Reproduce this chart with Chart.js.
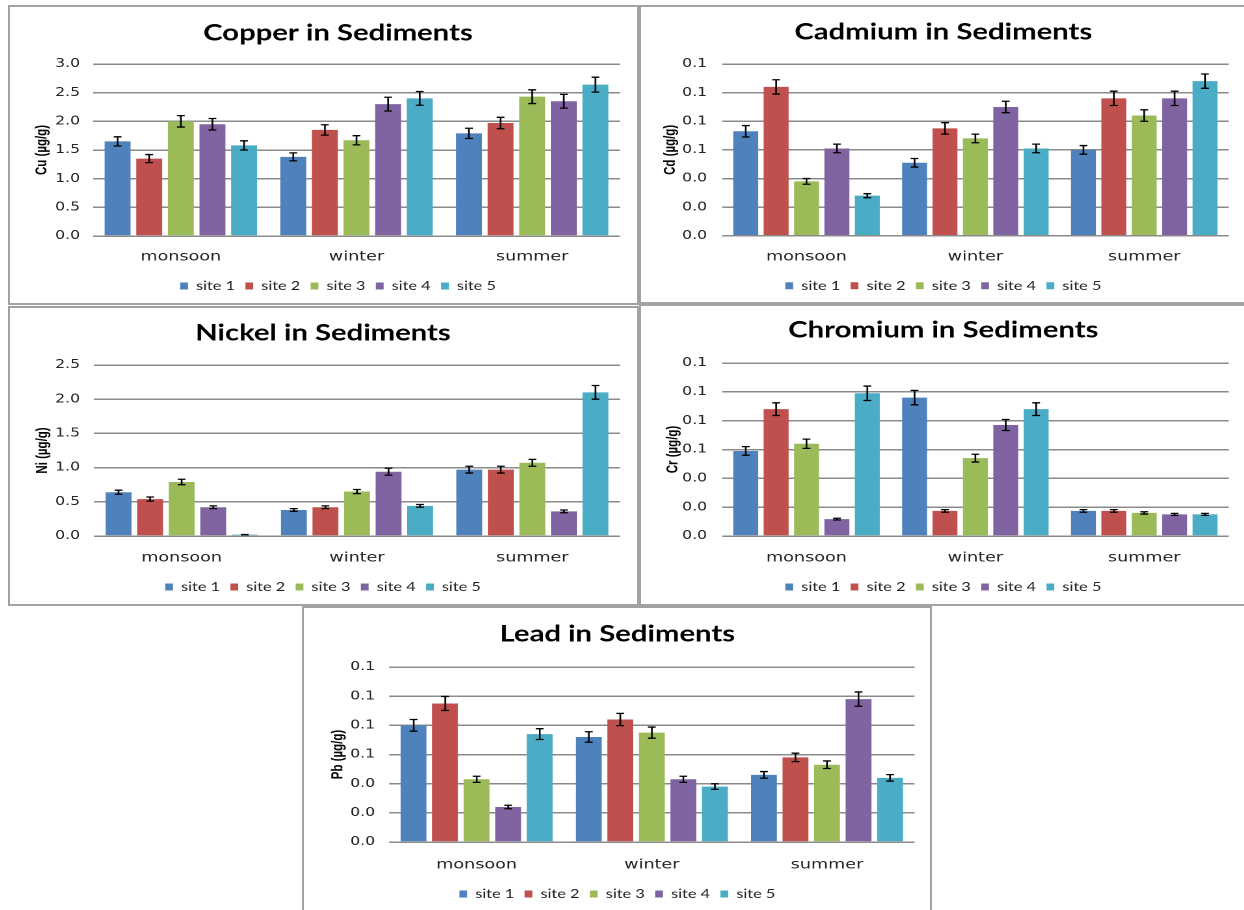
<!DOCTYPE html>
<html lang="en">
<head>
<meta charset="UTF-8">
<title>Heavy metals in sediments</title>
<script src="https://cdn.jsdelivr.net/npm/chart.js"></script>
<style>
  html, body { margin: 0; padding: 0; background: #fff; }
  body { width: 1244px; height: 910px; position: relative; overflow: hidden; }
  .panel { position: absolute; box-sizing: border-box; border: 2px solid #a2a2a2; background: #fff; }
  .stretch { position: absolute; left: 0; top: 0; transform-origin: 0 0; }
</style>
</head>
<body>

<div class="panel" id="p-cu"><div class="stretch"><canvas id="c-cu"></canvas></div></div>
<div class="panel" id="p-cd"><div class="stretch"><canvas id="c-cd"></canvas></div></div>
<div class="panel" id="p-ni"><div class="stretch"><canvas id="c-ni"></canvas></div></div>
<div class="panel" id="p-cr"><div class="stretch"><canvas id="c-cr"></canvas></div></div>
<div class="panel" id="p-pb"><div class="stretch"><canvas id="c-pb"></canvas></div></div>

<script>
    const seasons = ['monsoon', 'winter', 'summer'];
    const sites = ['site 1', 'site 2', 'site 3', 'site 4', 'site 5'];
    const siteColors = ['#4F81BD', '#C0504D', '#9BBB59', '#8064A2', '#4BACC6'];

    // mean concentrations, one row per site (monsoon, winter, summer)
    const cuMean = [[1.65, 1.38, 1.79], [1.35, 1.85, 1.97], [2.00, 1.67, 2.43], [1.95, 2.30, 2.35], [1.58, 2.40, 2.64]];
    const cuErr  = [[0.08, 0.07, 0.09], [0.07, 0.09, 0.10], [0.10, 0.08, 0.12], [0.10, 0.12, 0.12], [0.08, 0.12, 0.13]];

    const cdMean = [[0.073, 0.051, 0.060], [0.104, 0.075, 0.096], [0.038, 0.068, 0.084], [0.061, 0.090, 0.096], [0.028, 0.061, 0.108]];
    const cdErr  = [[0.004, 0.003, 0.003], [0.005, 0.004, 0.005], [0.002, 0.003, 0.004], [0.003, 0.004, 0.005], [0.0014, 0.003, 0.005]];

    const niMean = [[0.64, 0.38, 0.97], [0.54, 0.42, 0.97], [0.79, 0.65, 1.07], [0.42, 0.94, 0.36], [0.02, 0.44, 2.10]];
    const niErr  = [[0.03, 0.02, 0.05], [0.03, 0.02, 0.05], [0.04, 0.03, 0.05], [0.02, 0.05, 0.02], [0.001, 0.02, 0.10]];

    const crMean = [[0.059, 0.096, 0.0174], [0.088, 0.0174, 0.0174], [0.064, 0.054, 0.016], [0.0117, 0.077, 0.015], [0.099, 0.088, 0.015]];
    const crErr  = [[0.003, 0.005, 0.0009], [0.0044, 0.0009, 0.0009], [0.0032, 0.0027, 0.0008], [0.0006, 0.0038, 0.0007], [0.005, 0.0044, 0.0007]];

    const pbMean = [[0.080, 0.072, 0.046], [0.095, 0.084, 0.058], [0.043, 0.075, 0.053], [0.024, 0.043, 0.098], [0.074, 0.038, 0.044]];
    const pbErr  = [[0.004, 0.0036, 0.0023], [0.0048, 0.0042, 0.0029], [0.0021, 0.0038, 0.0026], [0.0012, 0.0021, 0.0049], [0.0037, 0.0019, 0.0022]];

    // y axis: min, max, step
    const cuAxis = [0, 3, 0.5];
    const niAxis = [0, 2.5, 0.5];
    const traceAxis = [0, 0.12, 0.02];

    const S = 1.3;        // horizontal stretch of every panel
    const BORDER = 2;
    const TITLE_SIZE = 22.5;
    const LEG_SIZE = 12.5;
    const LEG_PAD = 8;
    const YT_SIZE = 11.5;

    // draws the +/- bars on top of each column
    const errorBars = {
        id: 'errorBars',
        afterDatasetsDraw(chart) {
            const y = chart.scales.y;
            const ctx = chart.ctx;
            ctx.save();
            ctx.strokeStyle = '#000';
            ctx.lineWidth = 1.3;
            chart.data.datasets.forEach((ds, i) => {
                chart.getDatasetMeta(i).data.forEach((bar, j) => {
                    const v = ds.data[j], e = ds.errors[j];
                    const top = y.getPixelForValue(v + e);
                    const bot = y.getPixelForValue(v - e);
                    ctx.beginPath();
                    ctx.moveTo(bar.x, top); ctx.lineTo(bar.x, bot);
                    ctx.moveTo(bar.x - 3, top); ctx.lineTo(bar.x + 3, top);
                    ctx.moveTo(bar.x - 3, bot); ctx.lineTo(bar.x + 3, bot);
                    ctx.stroke();
                });
            });
            ctx.restore();
        }
    };

    function drawPanel(id, title, yTitle, mean, err, axis, box, g) {
        const panel = document.getElementById('p-' + id);
        panel.style.left = box[0] + 'px';
        panel.style.top = box[1] + 'px';
        panel.style.width = box[2] + 'px';
        panel.style.height = box[3] + 'px';

        const W = (box[2] - 2 * BORDER) / S;
        const H = box[3] - 2 * BORDER;
        const wrap = panel.firstElementChild;
        wrap.style.width = W + 'px';
        wrap.style.height = H + 'px';
        wrap.style.transform = 'scaleX(' + S + ')';

        // page coordinates -> canvas coordinates
        const ix = x => (x - box[0] - BORDER) / S;
        const iy = y => y - box[1] - BORDER;

        const plotL = ix(g.plotL), plotR = ix(g.plotR);
        const plotT = iy(g.plotT), plotB = iy(g.plotB);
        const padR = W - plotR;
        const padL = Math.max(0, 2 * ix(g.titleX) - plotR);
        const titleLH = TITLE_SIZE * 1.2;
        const legendH = 2 * LEG_PAD + LEG_SIZE;
        const xAxisH = iy(g.legendY) - plotB - LEG_PAD - LEG_SIZE / 2 + 3;
        const padB = Math.max(0, H - plotB - xAxisH - legendH);

        new Chart(document.getElementById('c-' + id), {
            type: 'bar',
            data: {
                labels: seasons,
                datasets: sites.map((s, i) => ({
                    label: s,
                    data: mean[i],
                    errors: err[i],
                    backgroundColor: siteColors[i],
                    borderWidth: 0,
                    categoryPercentage: 0.9,
                    barPercentage: 0.82
                }))
            },
            options: {
                responsive: true,
                maintainAspectRatio: false,
                animation: false,
                devicePixelRatio: 2,
                layout: { padding: { left: padL, right: padR, top: 0, bottom: padB } },
                scales: {
                    x: {
                        grid: { display: false },
                        border: { display: false },
                        ticks: {
                            color: '#222',
                            font: { family: 'DejaVu Sans', size: 13.5 },
                            padding: iy(g.catY) - plotB - 13,
                            maxRotation: 0
                        },
                        afterFit(scale) { scale.height = xAxisH; }
                    },
                    y: {
                        min: axis[0],
                        max: axis[1],
                        grid: { color: '#8a8a8a', lineWidth: 1.5, drawTicks: false },
                        border: { display: false },
                        ticks: {
                            stepSize: axis[2],
                            color: '#222',
                            font: { family: 'DejaVu Sans', size: 12 },
                            padding: (g.plotL - g.tickR) / S,
                            callback: v => v.toFixed(1)
                        },
                        title: {
                            display: true,
                            text: yTitle,
                            color: '#000',
                            font: { family: 'Liberation Sans', size: YT_SIZE, weight: 'bold' },
                            padding: { top: ix(g.yTitleX) - padL - YT_SIZE * 0.6, bottom: 0 }
                        },
                        afterFit(scale) { scale.width = plotL - padL; }
                    }
                },
                plugins: {
                    title: {
                        display: true,
                        text: title,
                        color: '#000',
                        font: { family: 'Lato', size: TITLE_SIZE, weight: 'bold' },
                        padding: {
                            top: iy(g.titleY) - titleLH / 2,
                            bottom: plotT - iy(g.titleY) - titleLH / 2
                        }
                    },
                    legend: {
                        position: 'bottom',
                        labels: {
                            color: '#222',
                            font: { family: 'Lato', size: LEG_SIZE },
                            boxWidth: 6,
                            boxHeight: 7,
                            padding: LEG_PAD
                        }
                    },
                    tooltip: { enabled: false }
                }
            },
            plugins: [errorBars]
        });
    }

    drawPanel('cu', 'Copper in Sediments', 'Cu (µg/g)', cuMean, cuErr, cuAxis,
        [8, 5, 631, 300],
        { plotL: 93, plotR: 620, plotT: 64, plotB: 238, tickR: 80, titleX: 338, titleY: 33, yTitleX: 42, catY: 256, legendY: 285 });

    drawPanel('cd', 'Cadmium in Sediments', 'Cd (µg/g)', cdMean, cdErr, traceAxis,
        [639, 5, 612, 299],
        { plotL: 722, plotR: 1228, plotT: 64, plotB: 238, tickR: 707, titleX: 943, titleY: 32, yTitleX: 671, catY: 256, legendY: 285 });

    drawPanel('ni', 'Nickel in Sediments', 'Ni (µg/g)', niMean, niErr, niAxis,
        [8, 306, 631, 300],
        { plotL: 94, plotR: 620, plotT: 365, plotB: 538, tickR: 80, titleX: 323, titleY: 333, yTitleX: 43, catY: 557, legendY: 586 });

    drawPanel('cr', 'Chromium in Sediments', 'Cr (µg/g)', crMean, crErr, traceAxis,
        [639, 304, 612, 302],
        { plotL: 722, plotR: 1228, plotT: 363, plotB: 538, tickR: 707, titleX: 943, titleY: 330, yTitleX: 673, catY: 557, legendY: 586 });

    drawPanel('pb', 'Lead in Sediments', 'Pb (µg/g)', pbMean, pbErr, traceAxis,
        [302, 606, 630, 310],
        { plotL: 389, plotR: 914, plotT: 667, plotB: 844, tickR: 375, titleX: 617, titleY: 634, yTitleX: 338, catY: 864, legendY: 893 });
</script>

</body>
</html>
